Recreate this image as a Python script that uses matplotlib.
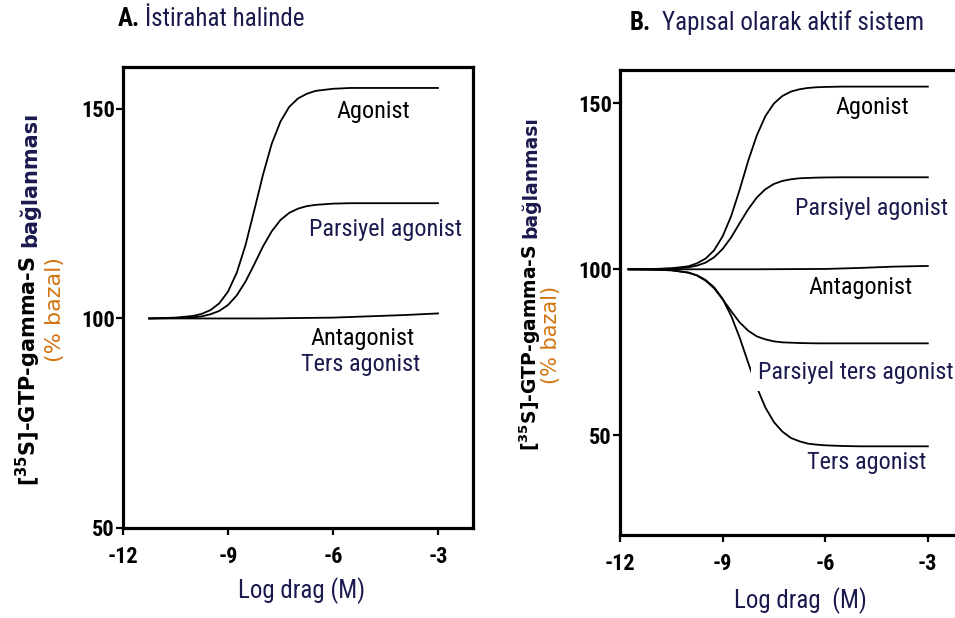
import matplotlib
matplotlib.use("Agg")
import matplotlib.pyplot as plt
from matplotlib import font_manager as fm

# --- donnees ---
# Panneau A : repos
x_a = [-11.25, -10.5, -10, -9.75, -9.5, -9.25, -9, -8.75, -8.5, -8.25, -8,
       -7.75, -7.5, -7.25, -7, -6.75, -6.5, -6, -5.5, -5, -4, -3]
agonist_a = [100.0, 100.2, 100.6, 101.1, 102.0, 103.6, 106.4, 110.9, 117.5, 125.8,
             134.3, 141.7, 147.0, 150.5, 152.5, 153.6, 154.3, 154.8, 155.0, 155.0,
             155.0, 155.0]
partial_a = [100.0, 100.1, 100.3, 100.5, 101.0, 101.8, 103.2, 105.5, 108.8, 112.9,
             117.2, 120.8, 123.5, 125.2, 126.2, 126.8, 127.1, 127.4, 127.5, 127.5,
             127.5, 127.5]
antag_x_a = [-11.25, -8, -6, -5, -4, -3]
antag_a = [100.0, 100.0, 100.2, 100.5, 100.8, 101.2]

# Panneau B : systeme constitutivement actif
x_b = [-11.75, -11.25, -10.5, -10, -9.75, -9.5, -9.25, -9, -8.75, -8.5, -8.25, -8,
       -7.75, -7.5, -7.25, -7, -6.75, -6.5, -6.25, -6, -5.5, -5, -4, -3]
agonist_b = [100.0, 100.0, 100.3, 100.9, 101.8, 103.2, 105.7, 109.9, 116.0, 124.0,
             132.7, 140.3, 146.1, 149.9, 152.2, 153.5, 154.2, 154.6, 154.8, 154.9,
             155.0, 155.0, 155.0, 155.0]
partial_b = [100.0, 100.0, 100.2, 100.6, 101.1, 102.0, 103.6, 106.1, 109.6, 113.9,
             118.1, 121.6, 124.1, 125.7, 126.6, 127.1, 127.4, 127.5, 127.6, 127.65,
             127.7, 127.7, 127.7, 127.7]
antag_x_b = [-11.75, -8, -6, -5, -4, -3]
antag_b = [100.0, 100.0, 100.1, 100.4, 100.8, 101.0]
partial_inv_b = [100.0, 100.0, 99.7, 99.0, 98.1, 96.6, 94.3, 91.0, 87.4, 84.0,
                 81.5, 79.8, 78.9, 78.3, 78.0, 77.9, 77.8, 77.75, 77.7, 77.7,
                 77.7, 77.7, 77.7, 77.7]
inv_b = [100.0, 99.9, 99.7, 99.0, 98.2, 96.8, 94.6, 91.1, 86.0, 79.4, 71.8, 64.5,
         58.4, 54.0, 51.1, 49.2, 48.2, 47.5, 47.2, 47.0, 46.8, 46.7, 46.7, 46.7]

xticks = [-12, -9, -6, -3]
xticklabels = ["-12", "-9", "-6", "-3"]
yticks_a = [50, 100, 150]
yticks_b = [50, 100, 150]

NAVY = '#1a1a4e'
ORANGE = '#d27512'


# police etroite : on prend ce qui est installe
def police_etroite(gras=False):
    prefs = ['Liberation Sans Narrow', 'Roboto Condensed', 'Open Sans Condensed',
             'Noto Sans Condensed', 'DejaVu Sans Condensed', 'Arial Narrow']
    def w_ok(e):
        w = e.weight
        if isinstance(w, str):
            w = {'normal': 400, 'regular': 400, 'medium': 500, 'bold': 700}.get(w, 400)
        return (w >= 600) if gras else (w < 600)
    lst = [e for e in fm.fontManager.ttflist if 'italic' not in e.style and 'oblique' not in e.style]
    for p in prefs:
        for e in lst:
            if e.name == p and w_ok(e):
                return fm.FontProperties(fname=e.fname)
    for e in lst:
        f = e.fname.lower()
        if ('condensed' in f or 'narrow' in f or e.stretch in ('condensed', 'semi-condensed', 'extra-condensed')) \
                and w_ok(e) and 'mono' not in f and 'serif' not in f.replace('sans', ''):
            return fm.FontProperties(fname=e.fname)
    return fm.FontProperties(family='Liberation Sans', weight='bold' if gras else 'normal')


FN = police_etroite(False)
FB = police_etroite(True)


def fp(size, base=FN):
    p = base.copy()
    p.set_size(size)
    return p


W, H = 955, 618
fig = plt.figure(figsize=(W / 100, H / 100), dpi=100)


def px(x, y):
    return x / W, 1 - y / H


def axe(rect_px, xlim, ylim, yticks):
    l, t, r, b = rect_px
    ax = fig.add_axes([l / W, 1 - b / H, (r - l) / W, (b - t) / H])
    ax.set_xlim(*xlim)
    ax.set_ylim(*ylim)
    for s in ax.spines.values():
        s.set_linewidth(2.3)
    ax.set_xticks(xticks)
    ax.set_xticklabels(xticklabels)
    ax.set_yticks(yticks)
    ax.tick_params(direction='out', length=5, width=1.6, pad=1)
    ax.tick_params(axis='x', pad=8)
    for lab in ax.get_xticklabels() + ax.get_yticklabels():
        lab.set_fontproperties(fp(16, FB))
    return ax


# ---------------- A ----------------
axA = axe((123, 67, 473, 528), (-12, -2), (50, 160), yticks_a)
axA.plot(x_a, agonist_a, color='black', lw=1.3)
axA.plot(x_a, partial_a, color='black', lw=1.3)
axA.plot(antag_x_a, antag_a, color='black', lw=1.3)

axA.text(-4.85, 149.5, "Agonist", fontproperties=fp(17.5), color='black',
         ha='center', va='center')
axA.text(-4.5, 121.3, "Parsiyel agonist", fontproperties=fp(17.5), color=NAVY,
         ha='center', va='center')
axA.text(-5.15, 95.2, "Antagonist", fontproperties=fp(17.5), color='black',
         ha='center', va='center')
axA.text(-5.2, 89.0, "Ters agonist", fontproperties=fp(17.5), color=NAVY,
         ha='center', va='center')

fig.text(*px(118, 19), "A.", fontproperties=fp(18, FB), color='black',
         ha='left', va='center')
fig.text(*px(145, 19), "İstirahat halinde", fontproperties=fp(18), color=NAVY,
         ha='left', va='center')
fig.text(*px(302, 591), "Log drag (M)", fontproperties=fp(18), color=NAVY,
         ha='center', va='center')

fig.text(*px(28, 256), r"[$^{\mathbf{35}}$S]-GTP-gamma-S", fontsize=15,
         fontweight='bold', color='black', rotation=90, ha='center', va='top')
fig.text(*px(29, 247), "bağlanması", fontsize=15, fontweight='bold', color=NAVY,
         rotation=90, ha='center', va='bottom')
fig.text(*px(55, 310), "(% bazal)", fontsize=16, color=ORANGE,
         rotation=90, ha='center', va='center')

# ---------------- B ----------------
axB = axe((620, 70, 962, 535), (-12, -2), (20, 160), yticks_b)
axB.plot(x_b, agonist_b, color='black', lw=1.3)
axB.plot(x_b, partial_b, color='black', lw=1.3)
axB.plot(antag_x_b, antag_b, color='black', lw=1.3)
axB.plot(x_b, partial_inv_b, color='black', lw=1.3)
axB.plot(x_b, inv_b, color='black', lw=1.3)

axB.text(-4.62, 148.8, "Agonist", fontproperties=fp(17.5), color='black',
         ha='center', va='center')
axB.text(-4.65, 118.4, "Parsiyel agonist", fontproperties=fp(17.5), color=NAVY,
         ha='center', va='center')
axB.text(-4.97, 94.6, "Antagonist", fontproperties=fp(17.5), color='black',
         ha='center', va='center')
axB.text(-5.1, 69.0, "Parsiyel ters agonist", fontproperties=fp(17.5), color=NAVY,
         ha='center', va='center', zorder=5,
         bbox=dict(boxstyle='square,pad=0.3', fc='white', ec='none'))
axB.text(-4.8, 41.9, "Ters agonist", fontproperties=fp(17.5), color=NAVY,
         ha='center', va='center')

fig.text(*px(630, 23), "B.", fontproperties=fp(18, FB), color='black',
         ha='left', va='center')
fig.text(*px(662, 23), "Yapısal olarak aktif sistem", fontproperties=fp(18),
         color=NAVY, ha='left', va='center')
fig.text(*px(800, 601), "Log drag  (M)", fontproperties=fp(18), color=NAVY,
         ha='center', va='center')

fig.text(*px(530, 244), r"[$^{\mathbf{35}}$S]-GTP-gamma-S", fontsize=13.5,
         fontweight='bold', color='black', rotation=90, ha='center', va='top')
fig.text(*px(531, 238), "bağlanması", fontsize=13.5, fontweight='bold', color=NAVY,
         rotation=90, ha='center', va='bottom')
fig.text(*px(551, 335), "(% bazal)", fontsize=15, color=ORANGE,
         rotation=90, ha='center', va='center')

fig.savefig("out.png", dpi=100)
